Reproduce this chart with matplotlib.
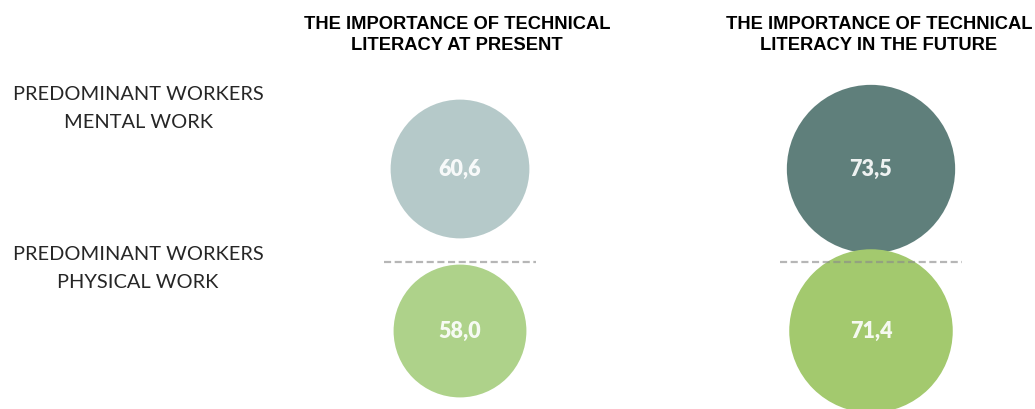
import matplotlib
matplotlib.use("Agg")
import matplotlib.pyplot as plt
from matplotlib.patches import Circle

# ---- data ----
columns = ["THE IMPORTANCE OF TECHNICAL\nLITERACY AT PRESENT",
           "THE IMPORTANCE OF TECHNICAL\nLITERACY IN THE FUTURE"]
rows = ["PREDOMINANT WORKERS\nMENTAL WORK",
        "PREDOMINANT WORKERS\nPHYSICAL WORK"]
present = [60.6, 58.0]
future = [73.5, 71.4]
values = [present, future]
colors = [["#b5c9c9", "#aed28a"],
          ["#5f7f7b", "#a3c96e"]]

# ---- layout (pixel-like data coordinates) ----
W, H = 1035, 409
col_x = [460, 871]
header_x = [457, 879]
header_base = [29, 50]
row_y = [169, 331]
label_x = 138
label_base = [[100.5, 128.5], [259.5, 287.5]]
r_scale = 1.145
sep_y = 261.5

fig = plt.figure(figsize=(W / 100, H / 100), dpi=100)
ax = fig.add_axes([0, 0, 1, 1])
ax.set_xlim(0, W)
ax.set_ylim(H, 0)
ax.set_aspect("equal")
ax.axis("off")

for ci, col_vals in enumerate(values):
    rmax = max(col_vals) * r_scale
    ax.plot([col_x[ci] - rmax - 7, col_x[ci] + rmax + 7], [sep_y, sep_y],
            color="#8a8a8a", alpha=0.62, lw=1.6, ls=(0, (3.2, 1.6)), zorder=4)
    for ri, v in enumerate(col_vals):
        c = Circle((col_x[ci], row_y[ri]), v * r_scale, facecolor=colors[ci][ri],
                   edgecolor="none", zorder=2)
        ax.add_patch(c)
        ax.text(col_x[ci], row_y[ri], f"{v:.1f}".replace(".", ","),
                ha="center", va="center", color="white", alpha=0.9,
                fontsize=15.5, fontweight="heavy", family="Lato", zorder=3)
    for li, line in enumerate(columns[ci].split("\n")):
        ax.text(header_x[ci], header_base[li], line, ha="center", va="baseline",
                fontsize=13.2, fontweight="bold", family="Liberation Sans",
                color="black")

for ri, lab in enumerate(rows):
    for li, line in enumerate(lab.split("\n")):
        ax.text(label_x, label_base[ri][li], line, ha="center", va="baseline",
                fontsize=14.4, family="Lato", color="#262626")

fig.savefig("out.png", dpi=100)
